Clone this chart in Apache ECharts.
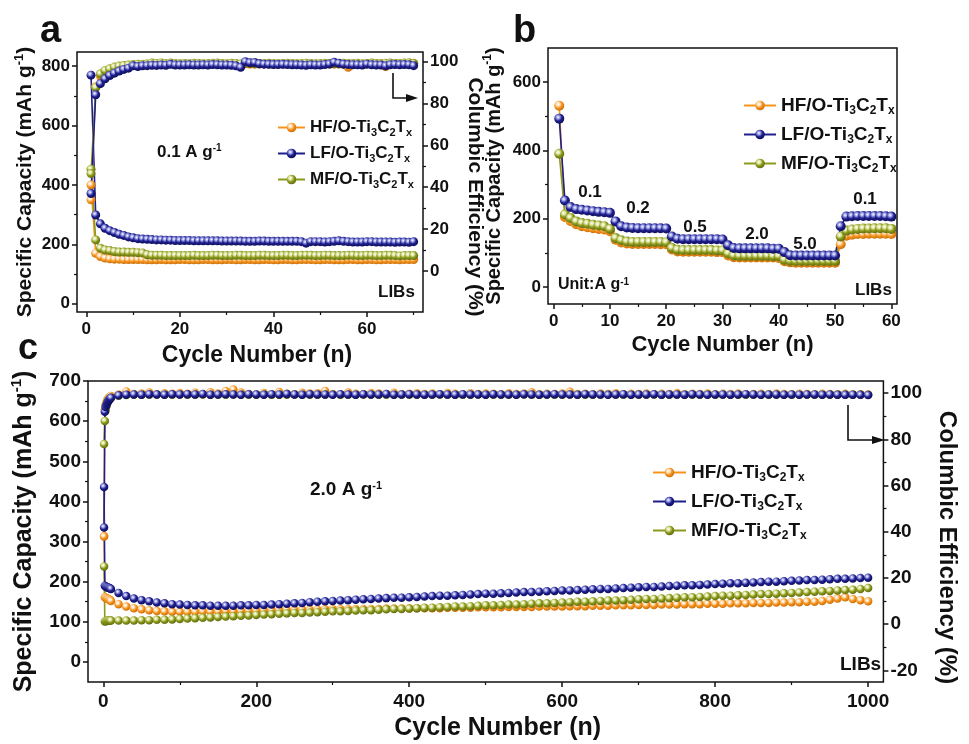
<!DOCTYPE html>
<html><head><meta charset="utf-8">
<script src="https://cdn.jsdelivr.net/npm/echarts@6/dist/echarts.min.js"></script>
<style>html,body{margin:0;padding:0;background:#fff}#main{width:969px;height:744px}</style>
</head><body><div id="main"></div>
<script>
// ---------- DATA ----------
const seriesNames = ['HF/O-Ti3C2Tx', 'LF/O-Ti3C2Tx', 'MF/O-Ti3C2Tx'];

// Panel a (0.1 A g-1, 70 cycles)
const cyclesA = [1,2,3,4,5,6,7,8,9,10,11,12,13,14,15,16,17,18,19,20,21,22,23,24,25,26,27,28,29,30,31,32,33,34,35,36,37,38,39,40,41,42,43,44,45,46,47,48,49,50,51,52,53,54,55,56,57,58,59,60,61,62,63,64,65,66,67,68,69,70];
const hfCapA = [400,170,159,154,151,150,150,149,149,149,149,149,148,148,148,149,148,148,148,149,149,148,148,148,149,149,148,148,148,149,149,148,148,149,149,148,148,149,149,148,148,149,149,148,148,149,149,149,148,148,149,149,148,148,148,149,149,148,148,149,149,148,148,149,149,149,148,149,149,149];
const lfCapA = [770,299,269,254,246,240,234,230,225,222,219,218,217,216,215,215,214,214,213,213,213,213,212,212,212,212,212,212,211,211,211,211,211,210,210,210,211,211,210,210,210,210,210,210,210,209,204,209,209,209,208,209,210,212,210,209,208,208,208,209,209,208,208,208,208,207,208,208,207,209];
const mfCapA = [453,215,187,181,179,176,174,174,173,173,172,171,165,163,163,163,162,162,162,162,162,162,163,162,162,162,163,163,162,162,162,163,163,162,162,162,163,163,162,162,162,163,163,162,162,163,163,163,162,162,163,163,162,162,162,163,163,162,162,163,163,162,162,163,163,162,161,162,162,162];
const hfCeA = [34.0,88.0,93.0,95.2,96.3,97.0,97.5,97.9,98.1,98.3,98.4,98.5,98.6,98.8,98.7,98.9,98.8,98.9,98.8,98.7,98.8,98.7,98.9,98.8,98.7,98.8,98.9,98.8,98.7,98.8,98.9,98.8,98.7,98.9,98.8,98.7,98.8,98.9,98.8,98.7,98.8,98.7,98.8,98.9,98.8,98.7,98.8,98.8,98.7,98.8,98.9,98.8,98.7,98.8,98.6,97.2,98.7,98.8,98.7,98.8,98.7,98.8,98.9,97.6,98.7,98.8,98.9,98.8,98.7,99.1];
const lfCeA = [37.0,84.1,89.4,91.7,93.3,94.4,95.4,96.2,96.8,97.9,97.6,97.9,98.0,98.2,98.1,98.3,98.2,98.6,98.3,98.3,98.3,98.4,98.3,98.3,98.4,98.3,98.5,98.4,98.3,98.3,98.2,97.9,97.2,99.9,99.4,99.5,98.9,98.7,98.6,98.5,98.5,98.6,98.5,98.4,98.4,98.3,98.2,98.4,98.3,98.3,98.5,98.8,99.6,99.1,98.7,98.5,98.4,98.4,98.3,98.7,98.4,98.3,98.3,97.9,98.4,98.5,98.4,98.5,98.4,98.0];
const mfCeA = [46.5,87.5,94.1,95.7,96.5,97.3,97.8,98.1,98.3,98.5,98.6,98.7,98.8,99.2,99.0,99.3,98.9,99.3,99.0,98.9,99.0,98.9,99.1,99.0,98.9,99.0,99.1,99.2,99.0,98.9,99.1,99.0,98.8,99.3,99.1,99.0,99.0,98.9,99.1,99.0,98.9,99.0,99.1,99.0,98.9,99.0,99.1,99.0,98.9,99.0,99.1,99.0,99.0,98.9,99.1,99.0,99.0,99.1,98.9,99.0,99.2,99.0,98.9,99.1,99.2,99.0,98.9,99.2,99.4,99.0];

// Panel b (rate capability, 60 cycles)
const cyclesB = [1,2,3,4,5,6,7,8,9,10,11,12,13,14,15,16,17,18,19,20,21,22,23,24,25,26,27,28,29,30,31,32,33,34,35,36,37,38,39,40,41,42,43,44,45,46,47,48,49,50,51,52,53,54,55,56,57,58,59,60];
const hfCapB = [531,205,193,184,178,175,172,170,168,163,138,130,127,126,126,126,126,126,125,125,110,104,103,103,103,103,103,103,102,102,92,87,86,86,86,86,86,86,86,85,75,72,71,71,71,71,71,71,71,71,125,150,153,155,155,156,156,156,156,155];
const lfCapB = [493,253,234,228,226,224,222,220,219,217,192,178,174,173,172,172,172,172,172,171,148,141,140,140,140,140,140,140,140,139,122,114,113,113,113,113,113,113,112,112,102,93,92,92,92,92,92,92,92,92,178,206,207,208,208,208,208,208,207,206];
const mfCapB = [390,212,202,192,187,185,182,180,178,170,143,137,133,132,132,132,132,132,132,131,114,109,108,108,108,108,108,108,107,107,98,92,91,91,91,91,91,91,90,90,80,77,76,76,76,76,76,76,76,76,148,165,168,170,171,171,172,172,172,170];
const rateLabelsB = ['0.1','0.2','0.5','2.0','5.0','0.1'];

// Panel c (2.0 A g-1, 1000 cycles)
const cyclesC = [1,2,3,4,5,6,7,8,9,10,20,30,40,50,60,70,80,90,100,110,120,130,140,150,160,170,180,190,200,210,220,230,240,250,260,270,280,290,300,310,320,330,340,350,360,370,380,390,400,410,420,430,440,450,460,470,480,490,500,510,520,530,540,550,560,570,580,590,600,610,620,630,640,650,660,670,680,690,700,710,720,730,740,750,760,770,780,790,800,810,820,830,840,850,860,870,880,890,900,910,920,930,940,950,960,970,980,990,1000];
const hfCapC = [314,161,160,159,158,157,156,155,154,152,144,138,134,131,129,127,126,125,125,125,125,126,126,126,127,127,127,128,128,128,129,129,129,129,130,130,130,131,131,131,131,132,132,132,132,133,133,133,133,134,134,134,134,135,135,135,135,136,136,136,136,137,137,137,137,138,138,138,138,139,139,139,140,140,140,141,141,141,142,142,142,143,143,143,144,144,144,145,145,145,146,146,146,147,147,147,148,148,149,149,150,150,152,155,158,161,157,154,151];
const lfCapC = [436,190,188,187,186,185,185,184,183,182,172,164,158,154,151,148,146,144,143,142,141,141,140,140,140,140,141,141,142,142,143,144,145,146,147,149,150,151,152,153,154,155,156,157,158,159,160,160,161,162,163,164,165,165,166,167,168,169,170,170,171,172,173,174,174,175,176,177,178,178,179,180,181,182,182,183,184,185,186,187,187,188,189,190,191,191,192,193,194,195,196,196,197,198,199,200,200,201,202,203,204,204,205,206,207,207,208,209,210];
const mfCapC = [238,101,102,102,102,103,103,103,103,103,103,103,103,104,104,105,105,106,107,108,109,110,111,112,113,114,115,116,117,118,119,120,121,122,122,123,124,125,126,126,127,128,129,129,130,131,132,132,133,134,135,135,136,137,138,138,139,140,141,141,142,143,143,144,145,146,146,147,148,149,150,150,151,152,153,153,154,155,156,157,157,158,159,160,161,161,162,163,164,165,165,166,167,168,169,169,170,171,172,173,174,175,176,177,178,179,180,182,184];
const hfCeC = [38,93,95,96,97,97.5,98,98.3,98.6,98.8,99.5,100.8,99.7,99.9,100.3,99.6,100.0,99.8,100.1,99.8,100.2,99.6,100.4,99.9,101.0,101.6,100.3,99.7,99.5,100.1,99.4,100.5,99.8,99.6,100.2,99.9,100.0,101.0,99.7,99.5,100.3,99.8,99.6,100.1,99.9,99.7,100.2,99.6,99.8,100.0,99.7,99.9,99.6,100.1,99.8,99.5,100.0,99.7,99.9,99.8,99.6,100.0,99.7,99.9,100.4,99.6,99.8,99.7,99.9,100.6,99.7,99.8,99.6,99.9,99.7,100.0,99.6,99.8,99.7,99.9,99.6,99.8,99.7,100.1,99.6,99.8,99.7,99.9,99.6,99.8,99.7,99.9,99.6,99.7,99.8,99.6,99.9,99.7,99.6,99.8,99.7,99.6,99.8,99.7,99.6,99.8,99.5,99.6,99.5];
const lfCeC = [41.9,92,94,95,95.8,96.4,96.9,97.3,97.7,98,99.1,99.4,99.5,99.4,99.6,99.5,99.4,99.6,99.5,99.6,99.5,99.7,99.4,99.5,99.6,99.5,99.3,99.6,99.5,99.4,99.6,99.5,99.7,99.5,99.4,99.6,99.5,99.5,99.3,99.6,99.5,99.4,99.6,99.5,99.5,99.7,99.4,99.5,99.6,99.5,99.4,99.5,99.6,99.5,99.4,99.6,99.5,99.5,99.4,99.6,99.5,99.5,99.4,99.6,99.5,99.4,99.5,99.6,99.5,99.5,99.4,99.6,99.5,99.5,99.3,99.5,99.6,99.4,99.5,99.5,99.6,99.4,99.5,99.5,99.4,99.6,99.5,99.4,99.5,99.5,99.4,99.5,99.6,99.5,99.4,99.5,99.5,99.4,99.5,99.4,99.5,99.5,99.4,99.5,99.4,99.3,99.4,99.3,99.2];
const mfCeC = [78,88,92.5,94.5,95.5,96.3,97,97.5,97.8,98,98.9,99.2,99.3,99.4,99.3,99.5,99.4,99.3,99.5,99.4,99.3,99.5,99.4,99.4,99.3,99.5,99.4,99.3,99.4,99.5,99.3,99.4,99.4,99.5,99.3,99.4,99.4,99.3,99.5,99.4,99.3,99.4,99.5,99.4,99.3,99.4,99.4,99.5,99.3,99.4,99.4,99.3,99.5,99.4,99.3,99.4,99.4,99.5,99.3,99.4,99.4,99.3,99.4,99.5,99.4,99.3,99.4,99.4,99.3,99.5,99.4,99.3,99.4,99.4,99.5,99.3,99.4,99.4,99.3,99.4,99.5,99.4,99.3,99.4,99.4,99.3,99.4,99.5,99.4,99.3,99.4,99.4,99.3,99.4,99.4,99.3,99.4,99.4,99.3,99.4,99.3,99.4,99.3,99.4,99.3,99.3,99.4,99.3,99.3];

// Tick labels
const ticksAx = [0,20,40,60], minorAx = [10,30,50,70];
const ticksAy = [0,200,400,600,800], minorAy = [100,300,500,700];
const ticksAr = [0,20,40,60,80,100], minorAr = [10,30,50,70,90];
const ticksBx = [0,10,20,30,40,50,60], minorBx = [5,15,25,35,45,55];
const ticksBy = [0,200,400,600], minorBy = [100,300,500];
const ticksCx = [0,200,400,600,800,1000], minorCx = [100,300,500,700,900];
const ticksCy = [0,100,200,300,400,500,600,700], minorCy = [50,150,250,350,450,550,650];
const ticksCr = [-20,0,20,40,60,80,100], minorCr = [-10,10,30,50,70,90];

// ---------- STYLE ----------
const FF = '"Liberation Sans", Arial, Helvetica, sans-serif';
const INK = '#111111';
const COLORS = {
  'HF/O-Ti3C2Tx': ['#F7941D', '#fde2bf', '#c46a08'],
  'LF/O-Ti3C2Tx': ['#1E1E8C', '#9a9ee6', '#0d0d55'],
  'MF/O-Ti3C2Tx': ['#8C9A1C', '#e0e7a6', '#5b650c']
};
function sphere(name) {
  const c = COLORS[name];
  return new echarts.graphic.RadialGradient(0.38, 0.35, 0.7, [
    {offset: 0, color: '#ffffff'}, {offset: 0.25, color: c[1]}, {offset: 0.55, color: c[0]}, {offset: 1, color: c[2]}
  ]);
}
function pairs(xs, ys) { return xs.map((x, i) => [x, ys[i]]); }

function mainAxis(gi, pos, min, max, ticks, lab, extra) {
  return Object.assign({
    gridIndex: gi, type: 'value', position: pos, min: min, max: max, offset: 0,
    splitLine: {show: false},
    axisLine: {show: false, onZero: false},
    axisTick: {show: true, inside: false, length: 5, customValues: ticks, lineStyle: {color: INK, width: 1.5}},
    axisLabel: {customValues: ticks, formatter: v => String(v), color: INK, fontFamily: FF, fontWeight: 'bold', fontSize: lab.size, margin: lab.margin},
    nameTextStyle: {}
  }, extra || {});
}
function minorAxis(gi, pos, min, max, minors) {
  return {
    gridIndex: gi, type: 'value', position: pos, min: min, max: max, offset: 0,
    splitLine: {show: false},
    axisLine: {show: false, onZero: false},
    axisTick: {show: true, inside: false, length: 3, customValues: minors, lineStyle: {color: INK, width: 1.2}},
    axisLabel: {show: false}
  };
}
function nameStyle(size, padding) {
  const s = {color: INK, fontFamily: FF, fontWeight: 'bold', fontSize: size, lineHeight: size + 4,
    rich: {sup: {color: INK, fontFamily: FF, fontWeight: 'bold', fontSize: Math.round(size * 0.6), verticalAlign: 'top', lineHeight: Math.round(size * 0.6) + 2}}};
  if (padding) s.padding = padding;
  return s;
}

const xAxes = [
  mainAxis(0, 'bottom', -2, 72, ticksAx, {size: 17, margin: 9}, {name: 'Cycle Number (n)', nameLocation: 'middle', nameGap: 30, nameTextStyle: nameStyle(23, [0,0,0,14])}),
  minorAxis(0, 'bottom', -2, 72, minorAx),
  mainAxis(1, 'bottom', -1, 61, ticksBx, {size: 17, margin: 9}, {name: 'Cycle Number (n)', nameLocation: 'middle', nameGap: 28, nameTextStyle: nameStyle(22)}),
  minorAxis(1, 'bottom', -1, 61, minorBx),
  mainAxis(2, 'bottom', -20, 1020, ticksCx, {size: 19, margin: 10}, {name: 'Cycle Number (n)', nameLocation: 'middle', nameGap: 32, nameTextStyle: nameStyle(25, [0,0,0,24])}),
  minorAxis(2, 'bottom', -20, 1020, minorCx)
];
const yAxes = [
  mainAxis(0, 'left', -28, 848, ticksAy, {size: 17, margin: 7}, {name: 'Specific Capacity (mAh g{sup|-1})', nameLocation: 'middle', nameGap: 38, nameTextStyle: nameStyle(21)}),
  minorAxis(0, 'left', -28, 848, minorAy),
  mainAxis(0, 'right', -19.5, 104.5, ticksAr, {size: 17, margin: 7}, {name: 'Columbic Efficiency (%)', nameLocation: 'middle', nameRotate: -90, nameGap: 36, nameTextStyle: nameStyle(21, [0,0,0,30])}),
  minorAxis(0, 'right', -19.5, 104.5, minorAr),
  mainAxis(1, 'left', -50, 700, ticksBy, {size: 17, margin: 7}, {name: 'Specific Capacity (mAh g{sup|-1})', nameLocation: 'middle', nameGap: 42, nameTextStyle: nameStyle(20)}),
  minorAxis(1, 'left', -50, 700, minorBy),
  mainAxis(2, 'left', -50, 700, ticksCy, {size: 19, margin: 7}, {name: 'Specific Capacity (mAh g{sup|-1})', nameLocation: 'middle', nameGap: 46, nameTextStyle: nameStyle(25)}),
  minorAxis(2, 'left', -50, 700, minorCy),
  mainAxis(2, 'right', -25, 105.3, ticksCr, {size: 19, margin: 7}, {name: 'Columbic Efficiency (%)', nameLocation: 'middle', nameRotate: -90, nameGap: 44, nameTextStyle: nameStyle(24, [0,0,0,32])}),
  minorAxis(2, 'right', -25, 105.3, minorCr)
];

function mkSeries(name, xs, ys, xi, yi, size) {
  return {
    type: 'line', name: name, data: pairs(xs, ys), xAxisIndex: xi, yAxisIndex: yi,
    symbol: 'circle', symbolSize: size, showSymbol: true, silent: true,
    lineStyle: {color: COLORS[name][0], width: 1.6},
    itemStyle: {color: sphere(name), borderWidth: 0},
    emphasis: {disabled: true}, animation: false, clip: true
  };
}
const [HF, LF, MF] = seriesNames;
const series = [
  // panel a
  mkSeries(HF, cyclesA, hfCapA, 0, 0, 9), mkSeries(MF, cyclesA, mfCapA, 0, 0, 9), mkSeries(LF, cyclesA, lfCapA, 0, 0, 9),
  mkSeries(HF, cyclesA, hfCeA, 0, 2, 9), mkSeries(MF, cyclesA, mfCeA, 0, 2, 9), mkSeries(LF, cyclesA, lfCeA, 0, 2, 9),
  // panel b
  mkSeries(HF, cyclesB, hfCapB, 2, 4, 10), mkSeries(MF, cyclesB, mfCapB, 2, 4, 10), mkSeries(LF, cyclesB, lfCapB, 2, 4, 10),
  // panel c
  mkSeries(HF, cyclesC, hfCapC, 4, 6, 8.5), mkSeries(MF, cyclesC, mfCapC, 4, 6, 8.5), mkSeries(LF, cyclesC, lfCapC, 4, 6, 8.5),
  mkSeries(HF, cyclesC, hfCeC, 4, 8, 8.5), mkSeries(MF, cyclesC, mfCeC, 4, 8, 8.5), mkSeries(LF, cyclesC, lfCeC, 4, 8, 8.5)
];

function legendText(size) {
  const sub = Math.round(size * 0.62);
  return {color: INK, fontFamily: FF, fontWeight: 'bold', fontSize: size, lineHeight: size + 4,
    rich: {s: {color: INK, fontFamily: FF, fontWeight: 'bold', fontSize: sub, verticalAlign: 'bottom', lineHeight: sub + 2}}};
}
function mkLegend(left, top, size, w, gap) {
  return {
    left: left, top: top, orient: 'vertical', data: [HF, LF, MF], itemWidth: w, itemHeight: 12, itemGap: gap,
    selectedMode: false, textStyle: legendText(size),
    formatter: n => n.replace('Ti3C2Tx', 'Ti{s|3}C{s|2}T{s|x}')
  };
}

function txt(x, y, text, size, align) {
  return {type: 'text', x: x, y: y, silent: true, style: {
    text: text, fill: INK, fontFamily: FF, fontWeight: 'bold', fontSize: size,
    textAlign: align || 'left', textVerticalAlign: 'middle',
    rich: {sup: {fill: INK, fontFamily: FF, fontWeight: 'bold', fontSize: Math.round(size * 0.6), verticalAlign: 'top', lineHeight: Math.round(size * 0.6) + 2}}
  }};
}
const graphics = [
  txt(40, 32, 'a', 38), txt(513, 32, 'b', 38), txt(18, 349, 'c', 36),
  txt(157, 152, '0.1 A g{sup|-1}', 17),
  txt(378, 292, 'LIBs', 17),
  txt(590, 192, rateLabelsB[0], 17, 'center'), txt(638, 208, rateLabelsB[1], 17, 'center'), txt(695, 227, rateLabelsB[2], 17, 'center'),
  txt(757, 234, rateLabelsB[3], 17, 'center'), txt(805, 244, rateLabelsB[4], 17, 'center'), txt(865, 199, rateLabelsB[5], 17, 'center'),
  txt(558, 285, 'Unit:A g{sup|-1}', 16),
  txt(855, 290, 'LIBs', 17),
  txt(310, 490, '2.0 A g{sup|-1}', 19),
  txt(840, 665, 'LIBs', 19),
  {type: 'polyline', silent: true, shape: {points: [[393, 73], [393, 98], [408, 98]]}, style: {stroke: INK, lineWidth: 1.6, fill: null}},
  {type: 'polygon', silent: true, shape: {points: [[406, 94], [418, 98], [406, 102]]}, style: {fill: INK}},
  {type: 'polyline', silent: true, shape: {points: [[848, 405], [848, 440], [874, 440]]}, style: {stroke: INK, lineWidth: 1.6, fill: null}},
  {type: 'polygon', silent: true, shape: {points: [[872, 436], [885, 440], [872, 444]]}, style: {fill: INK}}
];

const chart = echarts.init(document.getElementById('main'), null, {renderer: 'canvas'});
chart.setOption({
  animation: false,
  backgroundColor: '#ffffff',
  grid: [
    {left: 77, top: 52, width: 346, height: 260, show: true, borderColor: INK, borderWidth: 1.5, backgroundColor: 'transparent', containLabel: false},
    {left: 548, top: 48, width: 349, height: 256, show: true, borderColor: INK, borderWidth: 1.5, backgroundColor: 'transparent', containLabel: false},
    {left: 88, top: 381, width: 811, height: 304, show: true, borderColor: INK, borderWidth: 1.5, backgroundColor: 'transparent', containLabel: false}
  ],
  xAxis: xAxes,
  yAxis: yAxes,
  legend: [mkLegend(272, 112, 17, 27, 5), mkLegend(738, 89, 19, 32, 6), mkLegend(647, 456, 19, 33, 6)],
  series: series,
  graphic: graphics
});
</script></body></html>
